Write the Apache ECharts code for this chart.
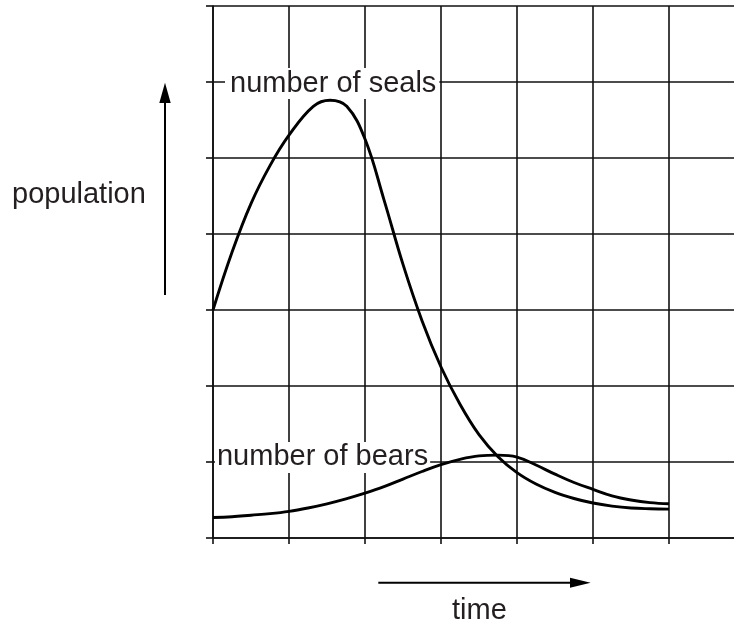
<!DOCTYPE html>
<html>
<head>
<meta charset="utf-8">
<script src="https://cdn.jsdelivr.net/npm/echarts@6/dist/echarts.min.js"></script>
<style>
  html, body { margin: 0; padding: 0; background: #fff; overflow: hidden; }
  /* the grid runs on past the right edge of the picture */
  #main { width: 745px; height: 625px; }
</style>
</head>
<body>
<div id="main"></div>
<script>
// time (grid units) / population (grid units)
var sealsT = [0, 0.25, 0.5, 0.75, 1.0, 1.32, 1.54, 1.76, 2.0, 2.25, 2.5, 2.75, 3.0,
              3.25, 3.5, 3.75, 4.0, 4.25, 4.5, 4.75, 5.0, 5.25, 5.5, 5.75, 6.0];
var sealsP = [3.0, 3.76, 4.40, 4.90, 5.30, 5.68, 5.76, 5.68, 5.25, 4.45, 3.6, 2.86, 2.25,
              1.76, 1.36, 1.07, 0.86, 0.71, 0.60, 0.52, 0.46, 0.42, 0.395, 0.385, 0.38];

var bearsT = [0, 0.25, 0.5, 0.75, 1.0, 1.25, 1.5, 1.75, 2.0, 2.25, 2.5, 2.75, 3.0,
              3.25, 3.5, 3.75, 4.0, 4.25, 4.5, 4.75, 5.0, 5.25, 5.5, 5.75, 6.0];
var bearsP = [0.27, 0.28, 0.30, 0.32, 0.35, 0.395, 0.45, 0.515, 0.59, 0.675, 0.775, 0.875, 0.965,
              1.035, 1.08, 1.09, 1.065, 0.96, 0.84, 0.73, 0.64, 0.555, 0.50, 0.465, 0.45];

var sealsLabel = 'number of seals';
var bearsLabel = 'number of bears';
var yName = 'population';
var xName = 'time';

function pairs(t, p) {
    var out = [];
    for (var i = 0; i < t.length; i++) {
        out.push([t[i], p[i]]);
    }
    return out;
}

var FONT = '"Liberation Sans", Arial, Helvetica, sans-serif';
var INK = '#231f20';
var GRIDC = '#111';

var myChart = echarts.init(document.getElementById('main'));

var labelStyle = {
    show: true,
    position: 'inside',
    align: 'left',
    verticalAlign: 'middle',
    color: INK,
    fontFamily: FONT,
    fontSize: 29,
    backgroundColor: '#fff'
};
var gridLine = { color: GRIDC, width: 1.6 };

var option = {
    animation: false,
    grid: {
        left: 213,
        top: 6,
        right: 0,
        bottom: 87
    },
    xAxis: {
        type: 'value',
        min: 0,
        max: 7,
        interval: 1,
        axisLine: { show: true, lineStyle: gridLine },
        axisTick: { show: true, length: 6, lineStyle: gridLine },
        axisLabel: { show: false },
        splitLine: { show: true, lineStyle: gridLine }
    },
    yAxis: {
        type: 'value',
        min: 0,
        max: 7,
        interval: 1,
        axisLine: { show: true, lineStyle: gridLine },
        axisTick: { show: true, length: 7, lineStyle: gridLine },
        axisLabel: { show: false },
        splitLine: { show: true, lineStyle: gridLine }
    },
    series: [
        {
            name: 'seals',
            type: 'line',
            z: 3,
            smooth: 0.4,
            symbol: 'none',
            lineStyle: { color: '#000', width: 2.9 },
            data: pairs(sealsT, sealsP),
            markPoint: {
                z: 1,
                symbol: 'circle',
                symbolSize: 0,
                data: [{
                    coord: [0.158, 5.98],
                    label: Object.assign({}, labelStyle, { formatter: sealsLabel, padding: [1, 3, 1, 5] })
                }]
            }
        },
        {
            name: 'bears',
            type: 'line',
            z: 3,
            smooth: 0.4,
            symbol: 'none',
            lineStyle: { color: '#000', width: 2.9 },
            data: pairs(bearsT, bearsP),
            markPoint: {
                z: 1,
                symbol: 'circle',
                symbolSize: 0,
                data: [{
                    coord: [0.026, 1.06],
                    label: Object.assign({}, labelStyle, { formatter: bearsLabel, padding: [1, 2, 1, 2] })
                }]
            }
        }
    ],
    graphic: [
        // upward arrow next to "population"
        { type: 'line', shape: { x1: 165, y1: 295, x2: 165, y2: 100 }, style: { stroke: '#000', lineWidth: 2 } },
        { type: 'polygon', shape: { points: [[159.3, 103], [170.7, 103], [165, 82.7]] }, style: { fill: '#000' } },
        // arrow above "time"
        { type: 'line', shape: { x1: 378.3, y1: 582.7, x2: 573, y2: 582.7 }, style: { stroke: '#000', lineWidth: 2 } },
        { type: 'polygon', shape: { points: [[570, 577.7], [570, 587.7], [590.7, 582.7]] }, style: { fill: '#000' } },
        {
            type: 'text', left: 12, top: 180,
            style: { text: yName, fill: INK, font: '29px ' + FONT }
        },
        {
            type: 'text', left: 452, top: 596,
            style: { text: xName, fill: INK, font: '29px ' + FONT }
        }
    ]
};

myChart.setOption(option);
</script>
</body>
</html>
